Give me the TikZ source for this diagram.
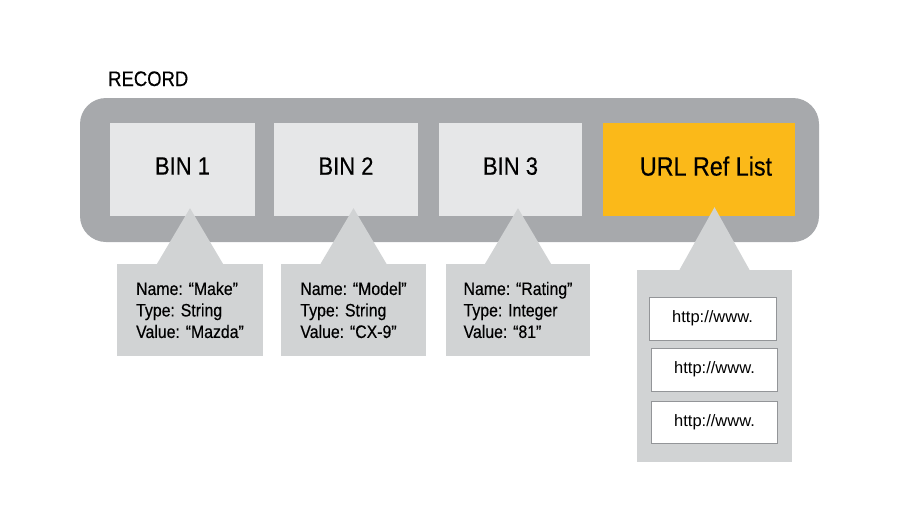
\documentclass[tikz,border=0pt]{standalone}
\usepackage{fontspec}
\setmainfont{Liberation Sans}
\newfontfamily\condfont[FakeStretch=0.88, FakeBold=0.4]{Liberation Sans}
\usepackage{tikz}
\usetikzlibrary{positioning, calc}
\definecolor{rec-gray}{HTML}{A7A9AC}
\definecolor{bin-gray}{HTML}{E6E7E8}
\definecolor{tip-gray}{HTML}{D1D3D4}
\definecolor{url-orange}{HTML}{FBB919}
\definecolor{url-line}{HTML}{939598}

\begin{document}
\begin{tikzpicture}[x=1pt, y=-1pt,
    bin/.style={fill=bin-gray, minimum height=93pt, inner sep=0, text depth=7pt,
                font=\condfont\fontsize{25}{30}\selectfont},
    info/.style={fill=tip-gray, minimum height=92pt, inner sep=0, align=left,
                 font=\condfont\fontsize{18}{21.5}\selectfont},
    link/.style={draw=url-line, line width=0.9pt, fill=white, minimum width=126pt,
                 minimum height=43pt, inner sep=0, font=\fontsize{16.5}{20}\selectfont},
]
    \useasboundingbox (0,0) rectangle (904,520);

    % Record
    \node[fill=rec-gray, rounded corners=26pt, minimum width=739pt, minimum height=144pt] (record) at (449.5,170) {};
    \node[anchor=base west, inner sep=0, font=\condfont\fontsize{21}{25}\selectfont] (reclabel) at (108,86) {RECORD};

    % Bins
    \node[bin, minimum width=145pt] (bin1) at (182.5,169.5) {BIN 1};
    \node[bin, minimum width=144pt] (bin2) at (346,169.5) {BIN 2};
    \node[bin, minimum width=143pt] (bin3) at (510.5,169.5) {BIN 3};
    \node[bin, fill=url-orange, minimum width=192pt, font=\condfont\fontsize{26.5}{30}\selectfont] (urllist) at (699,169.5) {\hspace*{14pt}URL Ref List};

    % Callouts
    \node[info, minimum width=146pt] (info1) at (190,310) {Name: “Make”\\Type: String\\Value: “Mazda”};
    \node[info, minimum width=145pt] (info2) at (353.5,310) {Name: “Model”\\Type: String\\Value: “CX-9”};
    \node[info, minimum width=144pt] (info3) at (518,310) {Name: “Rating”\\Type: Integer\\Value: “81”};
    \node[fill=tip-gray, inner sep=0, minimum width=155pt, minimum height=192pt] (links) at (714.5,366) {};

    \fill[tip-gray] ($(info1.north |- bin1.south)+(0,-8)$) -- ($(info1.north)+(-33,0)$) -- ($(info1.north)+(33,0)$) -- cycle;
    \fill[tip-gray] ($(info2.north |- bin2.south)+(0,-8)$) -- ($(info2.north)+(-33,0)$) -- ($(info2.north)+(33,0)$) -- cycle;
    \fill[tip-gray] ($(info3.north |- bin3.south)+(0,-8)$) -- ($(info3.north)+(-33,0)$) -- ($(info3.north)+(33,0)$) -- cycle;
    \fill[tip-gray] ($(links.north |- urllist.south)+(0,-9)$) -- ($(links.north)+(-35,0)$) -- ($(links.north)+(35,0)$) -- cycle;

    % URL entries
    \node[link, minimum width=127pt] (link1) at (712.5,318.5) {http://www.};
    \node[link] (link2) at (714.5,369.5) {http://www.};
    \node[link, minimum height=42pt] (link3) at (714.5,422.5) {http://www.};

\end{tikzpicture}
\end{document}
